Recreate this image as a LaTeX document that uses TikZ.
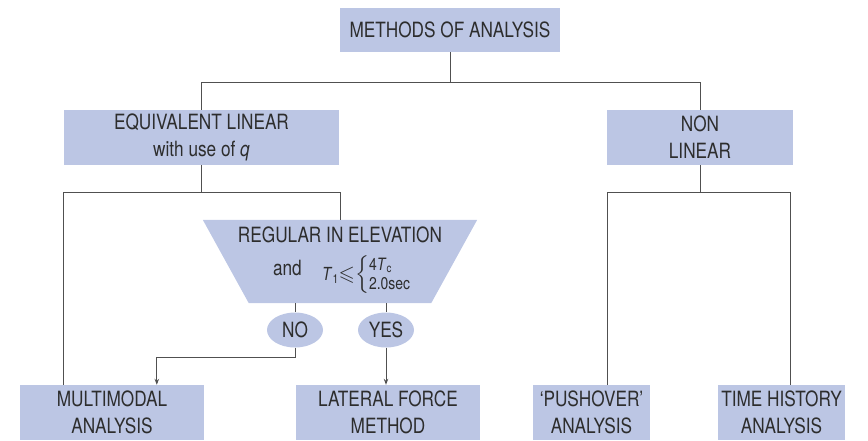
\documentclass[tikz,border=0pt]{standalone}
\usepackage{amssymb}
\usepackage{fontspec}
\setmainfont{TeX Gyre Heros}[FakeStretch=0.82]
\usetikzlibrary{arrows.meta, positioning, calc, shapes.geometric}
\definecolor{BoxBlue}{RGB}{188,198,228}
\definecolor{InkGray}{RGB}{45,45,45}
\definecolor{LineGray}{RGB}{80,80,80}

\begin{document}
\begin{tikzpicture}[
    x=1pt, y=-1pt,
    font=\fontsize{21}{27}\selectfont,
    link/.style={draw=LineGray, line width=0.9pt},
    flow/.style={link, -{Stealth[length=6pt, width=4.5pt]}},
    box/.style={fill=BoxBlue, text=InkGray, align=center, inner sep=0pt},
    answer/.style={box, ellipse, minimum width=56pt, minimum height=35pt},
]
\useasboundingbox (0,0) rectangle (868,440);

% --- top levels ---
\node[box, minimum width=220pt, minimum height=44pt] (meth) at (450,30) {METHODS OF ANALYSIS};
\node[box, minimum width=275pt, minimum height=55pt] (equiv) at (201.5,137.5)
    {EQUIVALENT LINEAR\\with use of \textit{q}};
\node[box, minimum width=186pt, minimum height=55pt] (nonlin) at (700,137.5) {NON\\LINEAR};

% --- regularity check (trapezoid) ---
\node[inner sep=0pt, minimum width=274pt, minimum height=83pt] (elev) at (340,261.5) {};
\fill[BoxBlue] (elev.north west) -- (elev.north east) -- ([xshift=-46pt]elev.south east)
    -- ([xshift=46pt]elev.south west) -- cycle;
\node[text=InkGray, anchor=base, inner sep=0pt] (elevtxt) at (340,242) {REGULAR IN ELEVATION};
\node[text=InkGray, anchor=base east, inner sep=0pt] (andtxt) at (302,275) {and};
\node[text=InkGray, anchor=west, inner sep=0pt] (cond) at (322,275.5)
    {{\fontsize{18}{18}\selectfont\textit{T}\textsubscript{1}}$\leqslant$$\left\{\fontsize{17}{19}\selectfont\begin{tabular}{@{}l@{}}4\textit{T}\textsubscript{c}\\2.0sec\end{tabular}\right.$};
\node[answer] (no) at (295,330) {NO};
\node[answer] (yes) at (386,330) {YES};

% --- methods ---
\node[box, minimum width=184pt, minimum height=55pt] (multi) at (112,412.5) {MULTIMODAL\\ANALYSIS};
\node[box, minimum width=184pt, minimum height=55pt] (lateral) at (388,412.5) {LATERAL FORCE\\METHOD};
\node[box, minimum width=117pt, minimum height=55pt] (push) at (591.5,412.5) {`PUSHOVER'\\ANALYSIS};
\node[box, minimum width=127pt, minimum height=55pt] (time) at (781.5,412.5) {TIME HISTORY\\ANALYSIS};

% --- connectors ---
\draw[link] (meth.south) -- ++(0,30) -| (equiv.north);
\draw[link] (meth.south) -- ++(0,30) -| (nonlin.north);
\draw[link] (equiv.south) -- ++(0,27) -| (elev.north);
\draw[link] (equiv.south) -- ++(0,27) -| ([xshift=44pt]multi.north west);
\draw[link] (no.north |- elev.south) -- (no.north);
\draw[link] (yes.north |- elev.south) -- (yes.north);
\draw[flow] (no.south) -- ++(0,10) -| ([xshift=137pt]multi.north west);
\draw[flow] (yes.south) -- (yes.south |- lateral.north);
\draw[link] (nonlin.south) -- ++(0,27) -| ([xshift=16pt]push.north);
\draw[link] (nonlin.south) -- ++(0,27) -| ([xshift=9pt]time.north);

\end{tikzpicture}
\end{document}
